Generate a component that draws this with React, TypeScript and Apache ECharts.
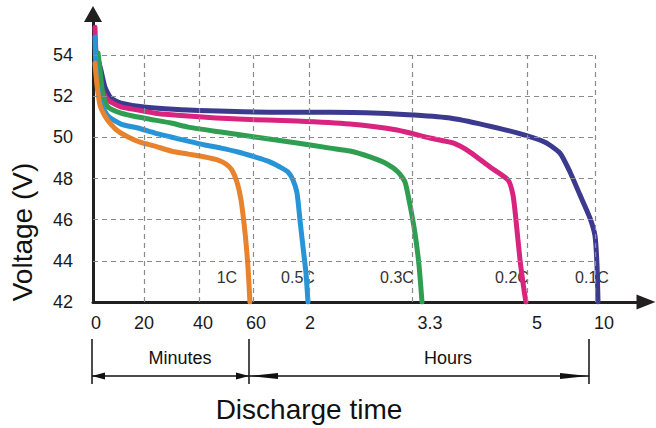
import { useEffect, useRef } from "react";
import * as echarts from "echarts";

// x axis: nonlinear scale (minutes, then hours) — anchors in hours and axis position
const TICK_LABELS = ["0", "20", "40", "60", "2", "3.3", "5", "10"];
const TICK_HOURS = [0, 1 / 3, 2 / 3, 1, 2, 3.3, 5, 10];
const TICK_POS = [0, 51, 106, 160, 216, 319, 434, 502];
const AXIS_END = 553;

const Y_TICKS = [42, 44, 46, 48, 50, 52, 54];
const Y_MIN = 42;
const Y_MAX = 56;

const SERIES_NAMES = ["0.1C", "0.2C", "0.3C", "0.5C", "1C"];
const COLORS = ["#3b3a8e", "#d8247f", "#2f9e50", "#2694d6", "#e8822d"];

// time (hours) and voltage (V)
const T_01C = [0.026, 0.052, 0.078, 0.118, 0.183, 0.294, 0.4, 0.6, 1.268, 2.265, 2.896, 3.315, 3.862, 4.379, 4.867, 6.324, 7.426, 8.162, 8.897, 9.632, 10.0, 10.147, 10.221];
const V_01C = [54.0, 53.27, 52.45, 51.91, 51.67, 51.52, 51.43, 51.33, 51.23, 51.23, 51.18, 51.09, 50.94, 50.6, 50.21, 49.77, 49.24, 48.32, 47.2, 46.08, 45.21, 43.8, 42.0];

const T_02C = [0.013, 0.02, 0.052, 0.098, 0.183, 0.294, 0.4, 0.6, 0.907, 1.786, 2.517, 3.111, 3.566, 3.906, 4.157, 4.453, 4.719, 4.793, 4.837, 4.897, 4.956, 4.985];
const V_02C = [55.36, 54.1, 52.45, 51.82, 51.48, 51.33, 51.18, 51.04, 50.89, 50.8, 50.65, 50.36, 49.97, 49.73, 49.29, 48.56, 47.93, 47.2, 45.98, 44.04, 42.58, 42.0];

const T_03C = [0.033, 0.046, 0.065, 0.098, 0.183, 0.294, 0.4, 0.497, 0.6, 0.802, 1.036, 1.786, 2.265, 2.517, 2.77, 2.984, 3.123, 3.212, 3.275, 3.344, 3.403, 3.448];
const V_03C = [54.1, 53.27, 52.06, 51.48, 51.18, 50.99, 50.84, 50.7, 50.5, 50.26, 50.02, 49.73, 49.48, 49.34, 49.05, 48.71, 48.32, 47.83, 46.71, 45.35, 43.8, 42.0];

const T_05C = [0.013, 0.02, 0.039, 0.052, 0.098, 0.183, 0.294, 0.4, 0.497, 0.6, 0.704, 0.802, 0.907, 1.036, 1.268, 1.482, 1.625, 1.714, 1.786, 1.839, 1.893, 1.946, 1.982];
const V_05C = [54.88, 53.27, 52.06, 51.67, 51.04, 50.65, 50.46, 50.21, 50.02, 49.82, 49.63, 49.48, 49.29, 49.05, 48.85, 48.56, 48.32, 47.93, 47.3, 45.98, 44.67, 43.41, 42.0];

const T_1C = [0.013, 0.026, 0.046, 0.078, 0.111, 0.163, 0.229, 0.307, 0.4, 0.497, 0.6, 0.704, 0.784, 0.833, 0.87, 0.901, 0.926, 0.951, 0.969, 0.981];
const V_1C = [53.61, 52.54, 51.57, 51.04, 50.7, 50.31, 50.02, 49.77, 49.58, 49.34, 49.19, 49.05, 48.9, 48.71, 48.41, 47.83, 46.96, 45.35, 43.7, 42.0];

const TIMES = [T_01C, T_02C, T_03C, T_05C, T_1C];
const VOLTS = [V_01C, V_02C, V_03C, V_05C, V_1C];

const LABEL_V = 43.2;
const LABEL_DX = [-6, -14, -25, -10, -23];
// horizontal nudge of each x tick label relative to its grid line (px)
const TICK_LABEL_SHIFT = [3, 0, 4, 3, 1, 18, 10, 9];

function toPos(h: number): number {
  const n = TICK_HOURS.length;
  let i = 0;
  while (i < n - 2 && h > TICK_HOURS[i + 1]) i++;
  const h0 = TICK_HOURS[i], h1 = TICK_HOURS[i + 1];
  const p0 = TICK_POS[i], p1 = TICK_POS[i + 1];
  return p0 + ((h - h0) / (h1 - h0)) * (p1 - p0);
}

const FONT = "Liberation Sans, Arial, sans-serif";

export default function App() {
  const ref = useRef<HTMLDivElement>(null);
  useEffect(() => {
    document.body.style.margin = "0";
    const chart = echarts.init(ref.current!, null, { renderer: "svg" });

    const gridData: any[] = [];
    TICK_POS.slice(1).forEach((p) => {
      gridData.push([{ coord: [p, Y_MIN] }, { coord: [p, Y_TICKS[Y_TICKS.length - 1]] }]);
    });
    Y_TICKS.slice(1).forEach((v) => {
      gridData.push([{ coord: [0, v] }, { coord: [TICK_POS[TICK_POS.length - 1], v] }]);
    });

    const rich: any = {};
    TICK_LABEL_SHIFT.forEach((s, i) => {
      rich["t" + i] = {
        fontSize: 18,
        color: "#1a1a1a",
        fontFamily: FONT,
        padding: [0, 0, 0, 2 * s],
      };
    });

    const curveSeries = SERIES_NAMES.map((name, k) => {
      const t = TIMES[k];
      const v = VOLTS[k];
      const lastT = t[t.length - 1];
      return {
        name,
        type: "line",
        data: t.map((h, j) => [toPos(h), v[j]]),
        smooth: 0.2,
        showSymbol: false,
        z: 3,
        lineStyle: { color: COLORS[k], width: 5, cap: "round", join: "round" },
        markPoint: {
          symbol: "circle",
          symbolSize: 0,
          z: 1,
          silent: true,
          label: {
            show: true,
            position: "inside",
            offset: [LABEL_DX[k], 0],
            formatter: name,
            color: "#333",
            fontSize: 16,
            fontFamily: FONT,
          },
          data: [{ coord: [toPos(lastT), LABEL_V] }],
        },
      };
    });

    const option: any = {
      animation: false,
      grid: { left: 93, right: 10, top: 14, bottom: 126 },
      xAxis: {
        type: "value",
        min: 0,
        max: AXIS_END,
        axisLine: {
          show: true,
          symbol: ["none", "triangle"],
          symbolSize: [15, 19],
          lineStyle: { color: "#231f20", width: 3 },
        },
        axisTick: { show: false },
        splitLine: { show: false },
        axisLabel: {
          customValues: TICK_POS,
          formatter: (val: number) => {
            const i = TICK_POS.indexOf(val);
            return i >= 0 ? `{t${i}|${TICK_LABELS[i]}}` : "";
          },
          rich,
          fontSize: 18,
          color: "#1a1a1a",
          fontFamily: FONT,
          margin: 12,
        },
      },
      yAxis: {
        type: "value",
        min: Y_MIN,
        max: Y_MAX,
        interval: 2,
        axisLine: {
          show: true,
          symbol: ["none", "triangle"],
          symbolSize: [18, 16],
          lineStyle: { color: "#231f20", width: 3 },
        },
        axisTick: { show: false },
        splitLine: { show: false },
        axisLabel: {
          customValues: Y_TICKS,
          fontSize: 18,
          color: "#1a1a1a",
          fontFamily: FONT,
          margin: 20,
        },
      },
      series: [
        {
          type: "line",
          data: [],
          silent: true,
          z: 1,
          markLine: {
            silent: true,
            symbol: ["none", "none"],
            label: { show: false },
            lineStyle: { type: [5, 4], color: "#8a8a8a", width: 1.2 },
            data: gridData,
          },
        },
        ...curveSeries,
      ],
      graphic: [
        {
          type: "text",
          x: 22,
          y: 232,
          rotation: Math.PI / 2,
          style: {
            text: "Voltage (V)",
            font: `28px ${FONT}`,
            fill: "#111",
            textAlign: "center",
            textVerticalAlign: "middle",
          },
        },
        {
          type: "text",
          x: 309,
          y: 409,
          style: {
            text: "Discharge time",
            font: `28px ${FONT}`,
            fill: "#111",
            textAlign: "center",
            textVerticalAlign: "middle",
          },
        },
        { type: "text", x: 180, y: 358, style: { text: "Minutes", font: `18px ${FONT}`, fill: "#111", textAlign: "center", textVerticalAlign: "middle" } },
        { type: "text", x: 448, y: 358, style: { text: "Hours", font: `18px ${FONT}`, fill: "#111", textAlign: "center", textVerticalAlign: "middle" } },
        { type: "line", shape: { x1: 92, y1: 339, x2: 92, y2: 384 }, style: { stroke: "#111", lineWidth: 1.5 } },
        { type: "line", shape: { x1: 249, y1: 339, x2: 249, y2: 384 }, style: { stroke: "#111", lineWidth: 1.5 } },
        { type: "line", shape: { x1: 589, y1: 339, x2: 589, y2: 384 }, style: { stroke: "#111", lineWidth: 1.5 } },
        { type: "line", shape: { x1: 92, y1: 376, x2: 589, y2: 376 }, style: { stroke: "#111", lineWidth: 1.5 } },
        { type: "polygon", shape: { points: [[92, 376], [105, 372.5], [105, 379.5]] }, style: { fill: "#111" } },
        { type: "polygon", shape: { points: [[249, 376], [236, 372.5], [236, 379.5]] }, style: { fill: "#111" } },
        { type: "polygon", shape: { points: [[250, 376], [278, 373], [278, 379]] }, style: { fill: "#111" } },
        { type: "polygon", shape: { points: [[588, 376], [560, 373], [560, 379]] }, style: { fill: "#111" } },
      ],
    };

    chart.setOption(option);
    return () => chart.dispose();
  }, []);
  return <div ref={ref} style={{ width: 656, height: 428 }} />;
}
